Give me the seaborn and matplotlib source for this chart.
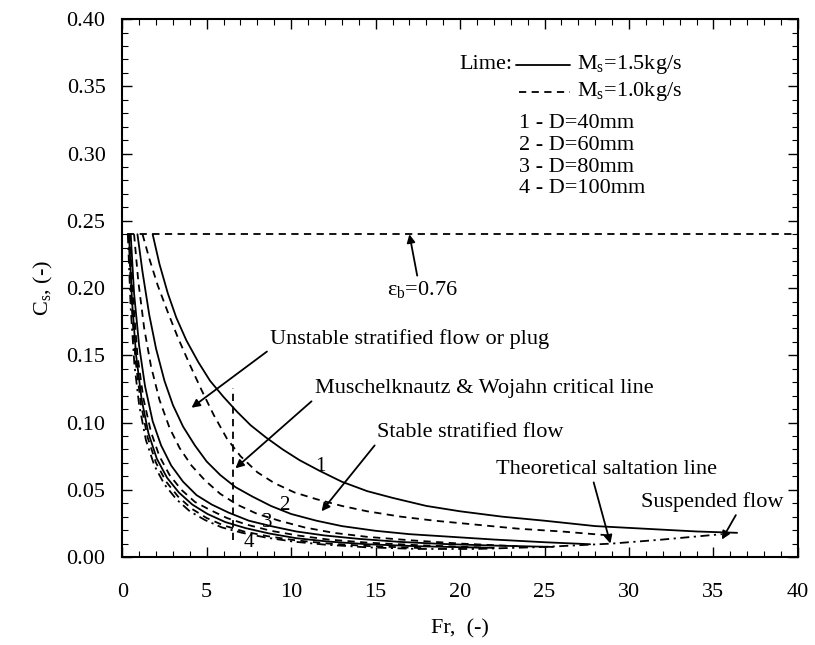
import matplotlib
matplotlib.use("Agg")
import matplotlib.pyplot as plt
import numpy as np
import pandas as pd
import seaborn as sns
from matplotlib.ticker import MultipleLocator, FormatStrFormatter

# Lime, dense-phase conveying: solids concentration C_s versus Froude number Fr
# D = 40 mm
fr_d40_m15 = [1.8, 2.2, 2.7, 3.2, 3.8, 4.5, 5.2, 6.0, 6.8, 7.6, 8.5, 9.5, 10.5, 11.7, 13.0, 14.5, 16.0, 18.0, 20.0, 22.5, 25.0, 28.0, 31.0, 34.0, 36.4]
cs_d40_m15 = [0.240, 0.218, 0.196, 0.178, 0.161, 0.145, 0.131, 0.119, 0.108, 0.098, 0.089, 0.080, 0.072, 0.064, 0.056, 0.049, 0.044, 0.038, 0.034, 0.030, 0.027, 0.023, 0.021, 0.019, 0.018]
fr_d40_m10 = [1.2, 1.6, 2.1, 2.7, 3.3, 4.0, 4.7, 5.4, 6.2, 7.0, 8.0, 9.0, 10.2, 11.5, 13.0, 14.5, 16.5, 18.5, 21.0, 23.5, 26.0, 28.9]
cs_d40_m10 = [0.240, 0.222, 0.202, 0.182, 0.163, 0.143, 0.124, 0.106, 0.088, 0.075, 0.063, 0.055, 0.048, 0.043, 0.038, 0.034, 0.030, 0.027, 0.024, 0.021, 0.019, 0.016]
# D = 60 mm
fr_d60_m15 = [0.9, 1.2, 1.6, 2.0, 2.5, 3.0, 3.6, 4.3, 5.0, 5.8, 6.7, 7.7, 8.8, 10.0, 11.5, 13.0, 15.0, 17.0, 19.5, 22.0, 25.0, 27.7]
cs_d60_m15 = [0.240, 0.212, 0.180, 0.155, 0.131, 0.113, 0.097, 0.083, 0.071, 0.061, 0.052, 0.045, 0.038, 0.032, 0.027, 0.023, 0.0195, 0.017, 0.015, 0.013, 0.011, 0.0095]
fr_d60_m10 = [0.7, 0.95, 1.3, 1.7, 2.2, 2.8, 3.4, 4.1, 4.9, 5.8, 6.8, 8.0, 9.3, 10.8, 12.5, 14.5, 17.0, 20.0, 23.4]
cs_d60_m10 = [0.240, 0.205, 0.170, 0.142, 0.117, 0.096, 0.081, 0.068, 0.057, 0.047, 0.039, 0.032, 0.027, 0.022, 0.018, 0.015, 0.0125, 0.010, 0.008]
# D = 80 mm
fr_d80_m15 = [0.5, 0.7, 1.0, 1.35, 1.8, 2.3, 2.9, 3.6, 4.4, 5.3, 6.3, 7.5, 8.8, 10.3, 12.0, 14.0, 16.5, 19.0, 22.0, 25.5]
cs_d80_m15 = [0.240, 0.196, 0.157, 0.127, 0.101, 0.083, 0.068, 0.056, 0.046, 0.039, 0.033, 0.027, 0.023, 0.019, 0.016, 0.0135, 0.0112, 0.0097, 0.0085, 0.0075]
fr_d80_m10 = [0.45, 0.65, 0.9, 1.25, 1.7, 2.2, 2.8, 3.5, 4.3, 5.2, 6.2, 7.4, 8.8, 10.4, 12.2, 14.5, 17.5, 21.5]
cs_d80_m10 = [0.240, 0.190, 0.150, 0.118, 0.093, 0.075, 0.061, 0.050, 0.041, 0.035, 0.029, 0.024, 0.0195, 0.016, 0.013, 0.0107, 0.0088, 0.007]
# D = 100 mm
fr_d100_m15 = [0.4, 0.58, 0.82, 1.15, 1.55, 2.05, 2.65, 3.35, 4.15, 5.05, 6.1, 7.3, 8.7, 10.3, 12.2, 14.5, 17.5, 22.0]
cs_d100_m15 = [0.240, 0.190, 0.150, 0.117, 0.092, 0.073, 0.059, 0.048, 0.039, 0.032, 0.026, 0.0215, 0.0175, 0.014, 0.0115, 0.0095, 0.0080, 0.0068]
fr_d100_m10 = [0.38, 0.55, 0.78, 1.1, 1.5, 2.0, 2.6, 3.3, 4.1, 5.0, 6.0, 7.2, 8.6, 10.2, 12.2, 14.5, 18.0]
cs_d100_m10 = [0.240, 0.188, 0.147, 0.114, 0.089, 0.070, 0.056, 0.045, 0.036, 0.029, 0.0235, 0.019, 0.0155, 0.0125, 0.0100, 0.0082, 0.0065]

# Theoretical saltation line
fr_salt = [0.33, 0.5, 0.72, 1.0, 1.4, 1.9, 2.5, 3.2, 4.0, 4.9, 5.9, 7.1, 8.5, 10.1, 12.0, 14.5, 17.5, 21.0, 25.0, 29.0, 32.0, 35.5]
cs_salt = [0.240, 0.185, 0.143, 0.113, 0.087, 0.068, 0.054, 0.043, 0.034, 0.0275, 0.022, 0.018, 0.0145, 0.0115, 0.0092, 0.0072, 0.0060, 0.0060, 0.0075, 0.010, 0.013, 0.017]

# Muschelknautz & Wojahn critical line
fr_mw = [6.55, 6.55]
cs_mw = [0.013, 0.126]

# Bed voidage
eps_b = 0.76

diameters = ["40", "60", "80", "100"]
mass_flows = ["1.5", "1.0"]
curve_fr = [fr_d40_m15, fr_d40_m10, fr_d60_m15, fr_d60_m10,
            fr_d80_m15, fr_d80_m10, fr_d100_m15, fr_d100_m10]
curve_cs = [cs_d40_m15, cs_d40_m10, cs_d60_m15, cs_d60_m10,
            cs_d80_m15, cs_d80_m10, cs_d100_m15, cs_d100_m10]

frames = []
for i, (fr, cs) in enumerate(zip(curve_fr, curve_cs)):
    frames.append(pd.DataFrame({
        "Fr": fr, "Cs": cs,
        "D": diameters[i // 2],
        "Ms": mass_flows[i % 2],
        "curve": i,
    }))
df = pd.concat(frames, ignore_index=True)

sns.set_theme(style="ticks")
plt.rcParams["font.family"] = ["Liberation Serif", "DejaVu Serif"]
plt.rcParams["mathtext.fontset"] = "custom"
plt.rcParams["mathtext.rm"] = "Liberation Serif"
plt.rcParams["mathtext.it"] = "Liberation Serif:italic"
plt.rcParams["font.size"] = 16
plt.rcParams["text.color"] = "black"
plt.rcParams["axes.labelcolor"] = "black"
plt.rcParams["xtick.color"] = "black"
plt.rcParams["ytick.color"] = "black"

fig = plt.figure(figsize=(8.15, 6.45), dpi=100)
ax = fig.add_axes([0.150, 0.1364, 0.829, 0.834])

lw = 1.3
sns.lineplot(data=df, x="Fr", y="Cs", units="curve", estimator=None,
             style="Ms", dashes={"1.5": "", "1.0": (4, 3)},
             color="black", linewidth=lw, legend=False, sort=False, ax=ax)

sns.lineplot(x=fr_salt, y=cs_salt, color="black", linewidth=lw,
             linestyle=(0, (5, 2.5, 1.2, 2.5)), sort=False, ax=ax)

ax.plot(fr_mw, cs_mw, color="black", linewidth=lw, linestyle=(0, (4, 3)))
ax.hlines(1 - eps_b, 0.3, 40, colors="black", linewidth=lw, linestyles=[(0, (4, 3))])

ax.set_xlim(0, 40)
ax.set_ylim(0, 0.40)
ax.xaxis.set_major_locator(MultipleLocator(5))
ax.xaxis.set_minor_locator(MultipleLocator(1))
ax.yaxis.set_major_locator(MultipleLocator(0.05))
ax.yaxis.set_minor_locator(MultipleLocator(0.01))
ax.yaxis.set_major_formatter(FormatStrFormatter("%.2f"))
ax.tick_params(which="both", direction="in", top=True, right=True, colors="black",
               labelcolor="black")
ax.tick_params(axis="x", which="major", length=7, width=1.0, pad=19, labelsize=16)
ax.tick_params(axis="y", which="major", length=7, width=1.0, pad=12, labelsize=16)
ax.tick_params(which="minor", length=4, width=0.8)
for sp in ax.spines.values():
    sp.set_linewidth(1.5)
    sp.set_color("black")

ax.set_xlabel("Fr,  (-)", fontsize=16, labelpad=12, color="black")
ax.set_ylabel(r"C$_\mathrm{s}$, (-)", fontsize=16, labelpad=8, color="black")

arrow = dict(arrowstyle="-|>", color="black", lw=1.3, mutation_scale=12, shrinkA=0, shrinkB=0)

ax.annotate("ε$_\\mathrm{b}$=0.76", xy=(17.0, 1 - eps_b), xytext=(15.7, 0.199),
            ha="left", va="center", fontsize=16, color="black",
            arrowprops=dict(arrow, relpos=(0.43, 1.0)))
ax.annotate("Unstable stratified flow or plug", xy=(4.1, 0.111), xytext=(8.76, 0.162),
            ha="left", va="center", fontsize=16, color="black",
            arrowprops=dict(arrow, relpos=(0.0, 0.0)))
ax.annotate("Muschelknautz & Wojahn critical line", xy=(6.7, 0.066), xytext=(11.4, 0.125),
            ha="left", va="center", fontsize=16, color="black",
            arrowprops=dict(arrow, relpos=(0.0, 0.0)))
ax.annotate("Stable stratified flow", xy=(11.8, 0.034), xytext=(15.1, 0.0925),
            ha="left", va="center", fontsize=16, color="black",
            arrowprops=dict(arrow, relpos=(0.0, 0.0)))
ax.annotate("Theoretical saltation line", xy=(28.9, 0.010), xytext=(22.1, 0.065),
            ha="left", va="center", fontsize=16, color="black",
            arrowprops=dict(arrow, relpos=(0.44, 0.0)))
ax.annotate("Suspended flow", xy=(35.5, 0.013), xytext=(30.7, 0.041),
            ha="left", va="center", fontsize=16, color="black",
            arrowprops=dict(arrow, relpos=(0.68, 0.0)))

# curve numbers
for lab, x, y in [("1", 11.7, 0.067), ("2", 9.6, 0.038), ("3", 8.6, 0.026), ("4", 7.5, 0.011)]:
    ax.text(x, y, lab, ha="center", va="center", fontsize=15, color="black")

# key
ax.text(23.1, 0.366, "Lime:", ha="right", va="center", fontsize=16, color="black")
ax.plot([23.3, 26.5], [0.366, 0.366], color="black", linewidth=lw)
ax.text(26.9, 0.366, r"M$_\mathrm{s}$=1.5kg/s", ha="left", va="center", fontsize=16, color="black")
ax.plot([23.5, 26.5], [0.346, 0.346], color="black", linewidth=lw, linestyle=(0, (4, 3)))
ax.text(26.9, 0.346, r"M$_\mathrm{s}$=1.0kg/s", ha="left", va="center", fontsize=16, color="black")
for k, (d, y) in enumerate(zip(diameters, [0.322, 0.306, 0.290, 0.274])):
    ax.text(23.5, y, f"{k + 1} - D={d}mm", ha="left", va="center", fontsize=16, color="black")

fig.savefig("out.png", dpi=100, facecolor="white")
